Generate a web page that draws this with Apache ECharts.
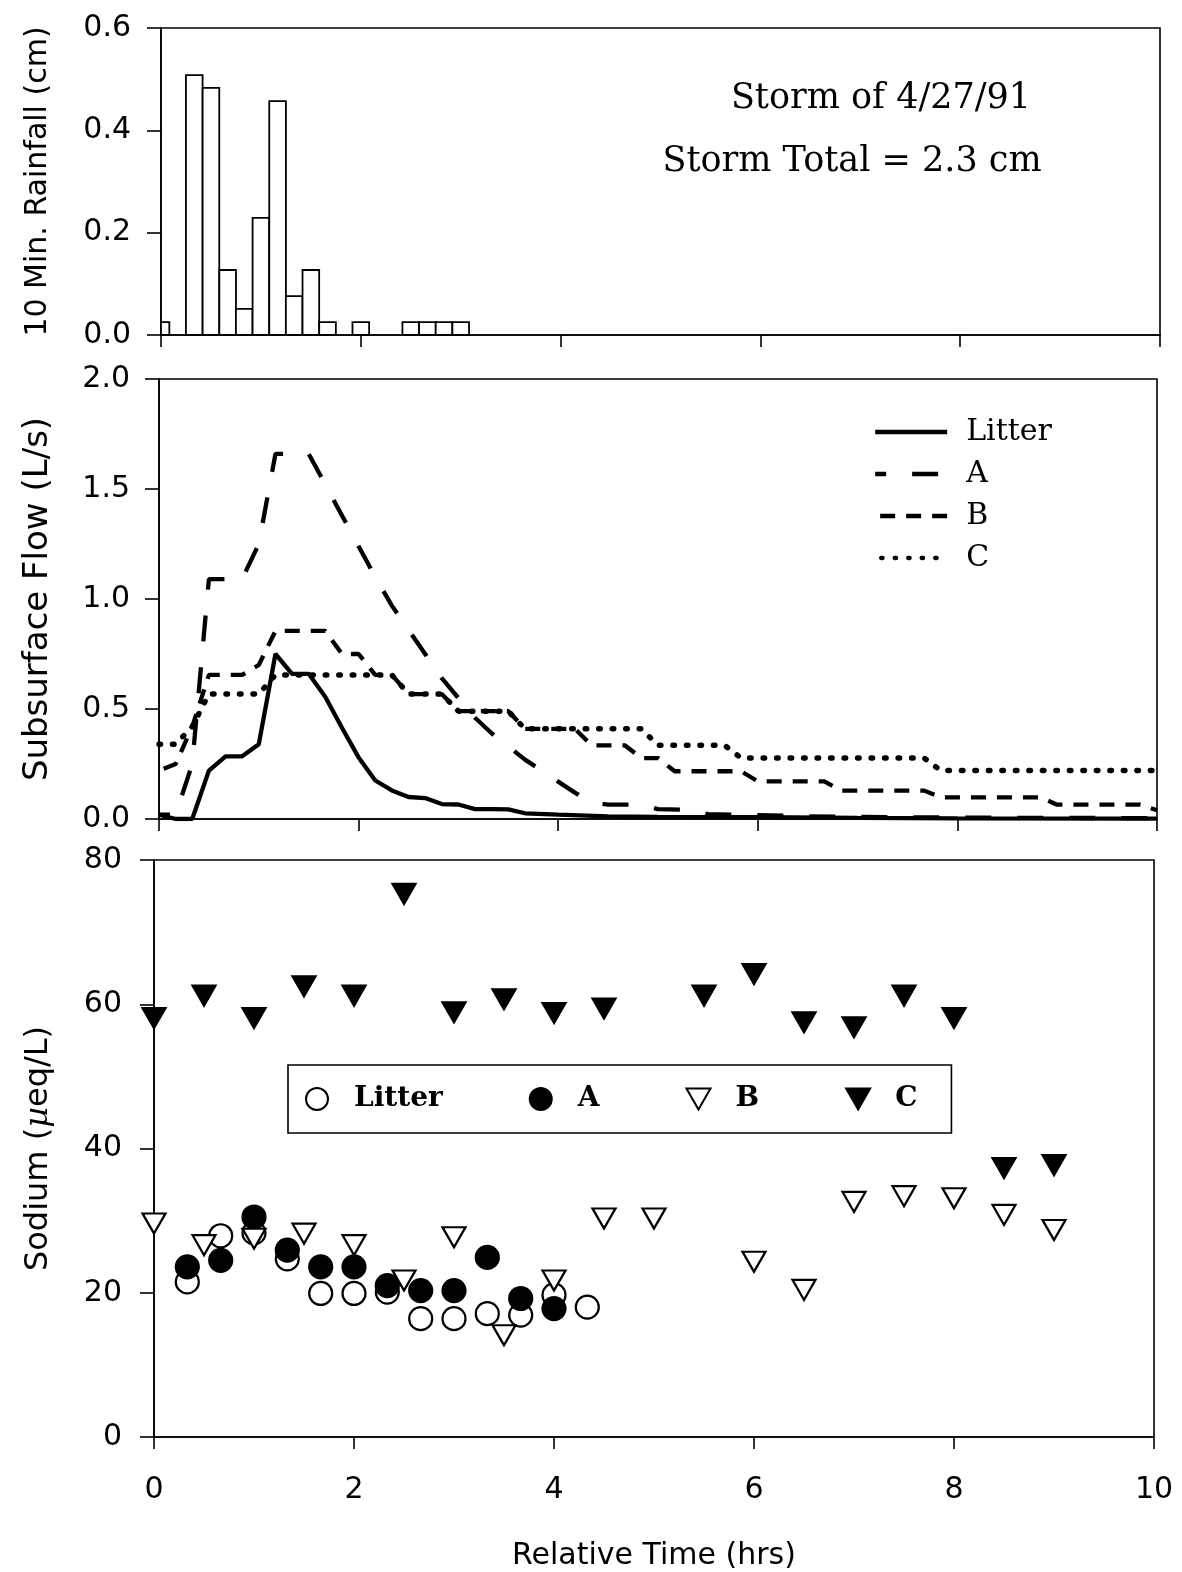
<!DOCTYPE html>
<html>
<head>
<meta charset="utf-8">
<script src="https://cdn.jsdelivr.net/npm/echarts@6/dist/echarts.min.js"></script>
<style>
  html, body { margin: 0; padding: 0; background: #fff; }
  #chart { width: 1182px; height: 1572px; }
</style>
</head>
<body>
<div id="chart"></div>
<script>
// ---- Rainfall, 10-minute totals (cm), bar centred on its interval time (hrs) ----
const RAIN_STEP = 1 / 6;
const rainTime  = [0, 0.333, 0.5, 0.667, 0.833, 1.0, 1.167, 1.333, 1.5, 1.667, 2.0, 2.5, 2.667, 2.833, 3.0];
const rainDepth = [0.025, 0.508, 0.483, 0.127, 0.051, 0.229, 0.457, 0.076, 0.127, 0.025, 0.025, 0.025, 0.025, 0.025, 0.025];

// ---- Subsurface flow (L/s) by horizon, [hrs, L/s] ----
const flowLitter = [[0,0.02],[0.167,0],[0.333,0],[0.5,0.22],[0.667,0.285],[0.833,0.285],[1.0,0.34],[1.167,0.75],
  [1.333,0.66],[1.5,0.66],[1.667,0.555],[1.833,0.415],[2.0,0.28],[2.167,0.175],[2.333,0.13],[2.5,0.10],[2.667,0.095],
  [2.833,0.068],[3.0,0.066],[3.167,0.045],[3.333,0.045],[3.5,0.044],[3.667,0.026],[4.0,0.02],[4.5,0.012],[5.0,0.01],
  [6.0,0.008],[7.0,0.005],[8.0,0.003],[10.0,0.002]];
const flowA = [[0,0.02],[0.167,0.02],[0.333,0.25],[0.5,1.09],[0.833,1.09],[1.0,1.25],[1.167,1.66],[1.5,1.66],
  [1.667,1.52],[1.833,1.38],[2.0,1.24],[2.167,1.1],[2.333,0.97],[2.5,0.86],[2.667,0.75],[2.833,0.64],[3.0,0.55],
  [3.167,0.46],[3.333,0.39],[3.5,0.33],[3.667,0.27],[3.833,0.22],[4.0,0.17],[4.167,0.12],[4.333,0.075],[4.5,0.065],
  [4.833,0.065],[5.0,0.045],[5.333,0.042],[5.5,0.022],[6.0,0.018],[6.5,0.012],[7.0,0.01],[8.0,0.006],[10.0,0.004]];
const flowB = [[0,0.22],[0.167,0.25],[0.333,0.42],[0.5,0.655],[0.833,0.655],[1.0,0.70],[1.167,0.855],[1.667,0.855],
  [1.833,0.75],[2.0,0.75],[2.167,0.655],[2.333,0.655],[2.5,0.568],[2.833,0.568],[3.0,0.49],[3.5,0.49],[3.667,0.41],
  [4.167,0.41],[4.333,0.335],[4.667,0.335],[4.833,0.277],[5.0,0.277],[5.167,0.217],[5.833,0.217],[6.0,0.171],
  [6.667,0.171],[6.833,0.129],[7.667,0.129],[7.833,0.098],[8.833,0.098],[9.0,0.065],[9.833,0.065],[10.0,0.04]];
const flowC = [[0,0.34],[0.167,0.34],[0.333,0.42],[0.5,0.568],[1.0,0.568],[1.167,0.655],[2.333,0.655],[2.5,0.568],
  [2.833,0.568],[3.0,0.49],[3.5,0.49],[3.667,0.41],[4.833,0.41],[5.0,0.335],[5.667,0.335],[5.833,0.277],
  [7.667,0.277],[7.833,0.22],[10.0,0.22]];

// ---- Sodium concentration (µeq/L) in soil water by horizon ----
const naLitterTime = [0.333,0.667,1.0,1.333,1.667,2.0,2.333,2.667,3.0,3.333,3.667,4.0,4.333];
const naLitter     = [21.5,27.9,28.3,24.7,19.9,19.9,20.1,16.4,16.4,17.1,16.9,19.7,18.0];
const naATime = [0.333,0.667,1.0,1.333,1.667,2.0,2.333,2.667,3.0,3.333,3.667,4.0];
const naA     = [23.6,24.5,30.5,25.9,23.6,23.6,21.0,20.3,20.3,24.9,19.2,17.8];
const naBTime = [0,0.5,1.0,1.5,2.0,2.5,3.0,3.5,4.0,4.5,5.0,6.0,6.5,7.0,7.5,8.0,8.5,9.0];
const naB     = [29.6,26.6,27.5,28.2,26.6,21.7,27.7,14.1,21.7,30.3,30.3,24.3,20.4,32.6,33.4,33.1,30.8,28.7];
const naCTime = [0,0.5,1.0,1.5,2.0,2.5,3.0,3.5,4.0,4.5,5.5,6.0,6.5,7.0,7.5,8.0,8.5,9.0];
const naC     = [58.1,61.2,58.1,62.5,61.2,75.3,58.9,60.7,58.8,59.4,61.2,64.2,57.5,56.8,61.2,58.1,37.3,37.7];

// ---- Axis ticks ----
const timeTicks = { min: 0, max: 10, interval: 2 };
const rainTicks = { min: 0, max: 0.6, interval: 0.2, decimals: 1 };
const flowTicks = { min: 0, max: 2.0, interval: 0.5, decimals: 1 };
const naTicks   = { min: 0, max: 80, interval: 20, decimals: 0 };

const SANS = '"DejaVu Sans", sans-serif';
const SERIF = '"DejaVu Serif", serif';
const INK = '#000';
const LINE_W = 4.3;
// downward-pointing triangle for the legend keys
const DOWN_TRIANGLE = 'path://M0,0L2,0L1,1.732Z';

function xAxisFor(gridIndex, showLabels, extra) {
  return Object.assign({
    type: 'value', gridIndex, min: timeTicks.min, max: timeTicks.max, interval: timeTicks.interval,
    axisLine: { show: true, onZero: false, lineStyle: { color: INK, width: 1.6 } },
    axisTick: { show: true, inside: false, length: 12, lineStyle: { color: INK, width: 1.6 } },
    axisLabel: { show: showLabels, color: INK, fontFamily: SANS, fontSize: 30, margin: 38 },
    splitLine: { show: false }
  }, extra || {});
}

function yAxisFor(gridIndex, ticks, name, nameGap, margin, nameStyle) {
  return {
    type: 'value', gridIndex, min: ticks.min, max: ticks.max, interval: ticks.interval,
    name, nameLocation: 'middle', nameRotate: 90, nameGap,
    nameTextStyle: Object.assign({ color: INK, fontFamily: SANS, fontSize: 30 }, nameStyle || {}),
    axisLine: { show: true, lineStyle: { color: INK, width: 1.6 } },
    axisTick: { show: true, inside: false, length: 14, lineStyle: { color: INK, width: 1.6 } },
    axisLabel: { color: INK, fontFamily: SANS, fontSize: 30, margin,
      formatter: v => v.toFixed(ticks.decimals) },
    splitLine: { show: false }
  };
}

function flowSeries(name, pairs, lineStyle) {
  return {
    type: 'line', name, xAxisIndex: 1, yAxisIndex: 1, data: pairs,
    symbol: 'none', showSymbol: false, clip: true, silent: true,
    itemStyle: { color: INK },
    lineStyle: Object.assign({ color: INK, width: LINE_W }, lineStyle)
  };
}

function sodiumSeries(name, times, values, symbol, rotate, filled, size) {
  return {
    type: 'scatter', name, xAxisIndex: 2, yAxisIndex: 2,
    data: times.map((t, i) => [t, values[i]]),
    symbol, symbolRotate: rotate, symbolSize: size, clip: false, silent: true,
    itemStyle: { color: filled ? INK : '#fff', borderColor: INK, borderWidth: 2.2, opacity: 1 }
  };
}

const gridStyle = { show: true, borderColor: INK, borderWidth: 1.6, backgroundColor: 'transparent', containLabel: false, outerBoundsMode: 'none' };

const chart = echarts.init(document.getElementById('chart'), null, { renderer: 'canvas' });

chart.setOption({
  animation: false,
  backgroundColor: '#fff',
  grid: [
    Object.assign({ left: 161, top: 28, width: 999, height: 307 }, gridStyle),
    Object.assign({ left: 159, top: 379, width: 998, height: 440 }, gridStyle),
    Object.assign({ left: 154, top: 860, width: 1000, height: 577 }, gridStyle)
  ],
  xAxis: [
    xAxisFor(0, false),
    xAxisFor(1, false),
    xAxisFor(2, true, {
      name: 'Relative Time (hrs)', nameLocation: 'middle', nameGap: 104,
      nameTextStyle: { color: INK, fontFamily: SANS, fontSize: 30 }
    })
  ],
  yAxis: [
    yAxisFor(0, rainTicks, '10 Min. Rainfall (cm)', 108, 30),
    yAxisFor(1, flowTicks, 'Subsurface Flow (L/s)', 104, 29, { fontSize: 34 }),
    yAxisFor(2, naTicks, '{n|Sodium (}{g|µ}{n|eq/L)}', 99, 32, {
      rich: {
        n: { fontFamily: SANS, fontSize: 32, color: INK },
        g: { fontFamily: SERIF, fontStyle: 'italic', fontSize: 32, color: INK }
      }
    })
  ],
  legend: [
    {
      orient: 'vertical', left: 868, top: 412, selectedMode: false,
      data: ['Litter flow', 'A flow', 'B flow', 'C flow'],
      formatter: n => n.split(' ')[0],
      itemWidth: 72, itemHeight: 20, itemGap: 12,
      itemStyle: { opacity: 0 },
      lineStyle: { width: LINE_W },
      textStyle: { color: INK, fontFamily: SERIF, fontSize: 30, lineHeight: 30, padding: [0, 0, 0, 14] }
    },
    {
      orient: 'horizontal', left: 288, top: 1065, selectedMode: false,
      data: [
        { name: 'Litter Na', icon: 'circle' },
        { name: 'A Na', icon: 'circle' },
        { name: 'B Na', icon: DOWN_TRIANGLE },
        { name: 'C Na', icon: DOWN_TRIANGLE }
      ],
      formatter: n => n.split(' ')[0],
      itemWidth: 24, itemHeight: 22, itemGap: 86,
      padding: [18, 34, 18, 17],
      borderColor: INK, borderWidth: 1.6, backgroundColor: '#fff',
      textStyle: { color: INK, fontFamily: SERIF, fontWeight: 'bold', fontSize: 28, lineHeight: 32, padding: [0, 0, 0, 20] }
    }
  ],
  graphic: [
    { type: 'text', x: 881, y: 99, silent: true,
      style: { text: 'Storm of 4/27/91', font: '35px ' + SERIF, fill: INK, textAlign: 'center', textVerticalAlign: 'middle' } },
    { type: 'text', x: 852, y: 162, silent: true,
      style: { text: 'Storm Total = 2.3 cm', font: '35px ' + SERIF, fill: INK, textAlign: 'center', textVerticalAlign: 'middle' } }
  ],
  series: [
    {
      type: 'custom', name: 'rainfall', xAxisIndex: 0, yAxisIndex: 0, silent: true,
      data: rainTime.map((t, i) => [t, rainDepth[i]]),
      renderItem(params, api) {
        const t = api.value(0), d = api.value(1);
        const a = api.coord([t - RAIN_STEP / 2, d]);
        const b = api.coord([t + RAIN_STEP / 2, 0]);
        const cs = params.coordSys;
        const shape = echarts.graphic.clipRectByRect(
          { x: a[0], y: a[1], width: b[0] - a[0], height: b[1] - a[1] },
          { x: cs.x, y: cs.y, width: cs.width, height: cs.height });
        return shape && { type: 'rect', shape, style: { fill: '#fff', stroke: INK, lineWidth: 1.8 } };
      }
    },
    flowSeries('Litter flow', flowLitter, { type: 'solid' }),
    flowSeries('A flow', flowA, { type: [26, 26], dashOffset: 15 }),
    flowSeries('B flow', flowB, { type: [15, 11], dashOffset: 21 }),
    flowSeries('C flow', flowC, { type: [1.5, 12], cap: 'round', width: 5.5 }),
    sodiumSeries('Litter Na', naLitterTime, naLitter, 'circle', 0, false, 23),
    sodiumSeries('A Na', naATime, naA, 'circle', 0, true, 23),
    sodiumSeries('B Na', naBTime, naB, 'triangle', 180, false, [23, 20]),
    sodiumSeries('C Na', naCTime, naC, 'triangle', 180, true, [23, 20])
  ]
});
</script>
</body>
</html>
